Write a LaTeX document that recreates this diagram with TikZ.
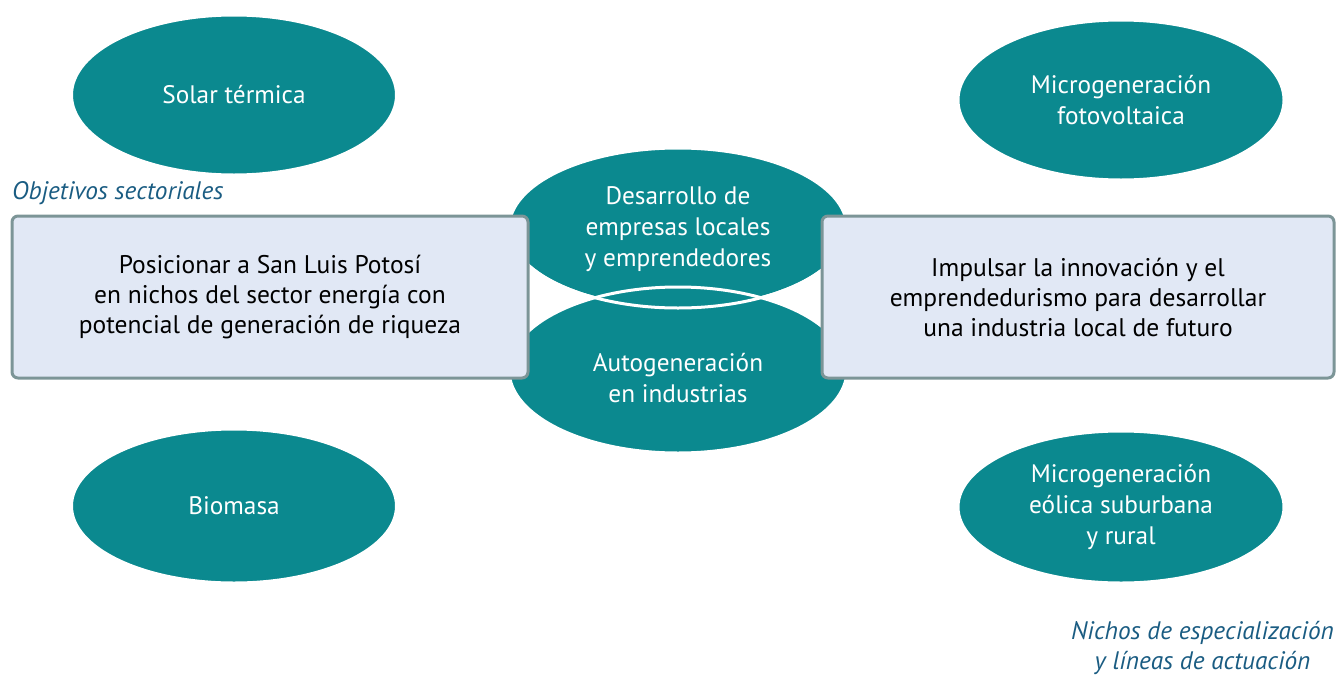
\documentclass[tikz,border=0pt]{standalone}
\usepackage{fontspec}
\setmainfont{PT Sans}
\usetikzlibrary{shapes.geometric}
\definecolor{teal1}{HTML}{0B898F}
\definecolor{boxfill}{HTML}{E1E8F5}
\definecolor{boxline}{HTML}{7C9597}
\definecolor{labelblue}{HTML}{1A5C82}
\tikzset{
  oval/.style={ellipse, fill=teal1, draw=white, line width=3pt, inner sep=0pt,
    text=white, align=center, font=\fontsize{25.3}{31}\selectfont},
  ovaltext/.style={text=white, align=center, font=\fontsize{25.3}{31}\selectfont},
  objbox/.style={rectangle, fill=boxfill, draw=boxline, line width=3pt, rounded corners=6pt,
    inner sep=0pt, align=center, font=\fontsize{25.5}{30}\selectfont, text=black},
  caption/.style={text=labelblue, font=\fontsize{25.3}{30}\selectfont\itshape, inner sep=0pt}
}
\begin{document}
\begin{tikzpicture}[x=1pt,y=-1pt]
\useasboundingbox (0,0) rectangle (1336,675);
\node[oval, minimum width=325pt, minimum height=160pt] (solar) at (234,95) {Solar térmica};
\node[oval, minimum width=325pt, minimum height=154pt] (bio) at (234,506) {Biomasa};
\node[oval, minimum width=326pt, minimum height=160pt] (foto) at (1121,100) {Microgeneración\\fotovoltaica};
\node[oval, minimum width=326pt, minimum height=152pt] (eol) at (1121,507) {Microgeneración\\eólica suburbana\\y rural};
\node[oval, minimum width=338pt, minimum height=160pt] (des) at (678,228) {};
\node[oval, minimum width=338pt, minimum height=166pt] (auto) at (678,370) {};
\draw[white, line width=3pt] (des.center) ++(-169pt,0) arc[start angle=180, end angle=360, x radius=169pt, y radius=80pt];
\node[ovaltext] (destext) at (678,229) {Desarrollo de\\empresas locales\\y emprendedores};
\node[ovaltext] (autotext) at (678,378) {Autogeneración\\en industrias};
\node[objbox, minimum width=516pt, minimum height=162pt] (left) at (270,297) {Posicionar a San Luis Potosí\\en nichos del sector energía con\\potencial de generación de riqueza};
\node[objbox, minimum width=512pt, minimum height=162pt] (right) at (1078,297) {Impulsar la innovación y el\\emprendedurismo para desarrollar\\una industria local de futuro};
\node[caption, anchor=west] (obj) at (12,193) {Objetivos sectoriales};
\node[caption, align=center, anchor=east] (nichos) at (1334,648) {Nichos de especialización\\y líneas de actuación};
\end{tikzpicture}
\end{document}
